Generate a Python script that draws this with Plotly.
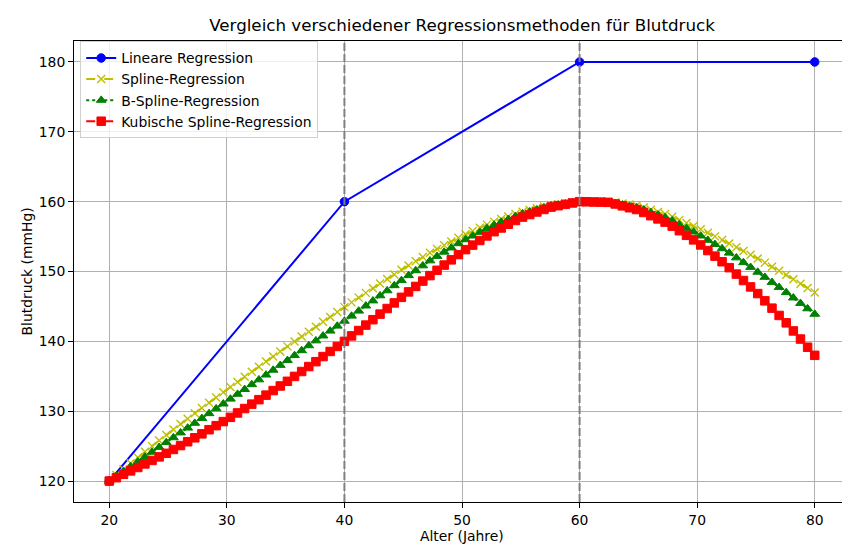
import plotly.graph_objects as go

# ---- data ----
alter_punkte = [20, 40, 60, 80]
linear_werte = [120, 160, 180, 180]

alter = [20.000, 20.606, 21.212, 21.818, 22.424, 23.030, 23.636, 24.242, 24.848, 25.455,
         26.061, 26.667, 27.273, 27.879, 28.485, 29.091, 29.697, 30.303, 30.909, 31.515,
         32.121, 32.727, 33.333, 33.939, 34.545, 35.152, 35.758, 36.364, 36.970, 37.576,
         38.182, 38.788, 39.394, 40.000, 40.606, 41.212, 41.818, 42.424, 43.030, 43.636,
         44.242, 44.848, 45.455, 46.061, 46.667, 47.273, 47.879, 48.485, 49.091, 49.697,
         50.303, 50.909, 51.515, 52.121, 52.727, 53.333, 53.939, 54.545, 55.152, 55.758,
         56.364, 56.970, 57.576, 58.182, 58.788, 59.394, 60.000, 60.606, 61.212, 61.818,
         62.424, 63.030, 63.636, 64.242, 64.848, 65.455, 66.061, 66.667, 67.273, 67.879,
         68.485, 69.091, 69.697, 70.303, 70.909, 71.515, 72.121, 72.727, 73.333, 73.939,
         74.545, 75.152, 75.758, 76.364, 76.970, 77.576, 78.182, 78.788, 79.394, 80.000]

spline_werte = [120.00, 120.85, 121.70, 122.55, 123.39, 124.20, 125.00, 125.80, 126.60, 127.38,
                128.16, 128.93, 129.71, 130.47, 131.22, 131.97, 132.72, 133.46, 134.19, 134.92,
                135.65, 136.37, 137.10, 137.83, 138.55, 139.28, 139.98, 140.68, 141.39, 142.09,
                142.79, 143.49, 144.20, 144.90, 145.58, 146.26, 146.94, 147.61, 148.27, 148.93,
                149.58, 150.24, 150.86, 151.46, 152.07, 152.67, 153.23, 153.77, 154.30, 154.83,
                155.33, 155.79, 156.25, 156.71, 157.14, 157.50, 157.86, 158.23, 158.56, 158.80,
                159.05, 159.29, 159.52, 159.64, 159.76, 159.88, 160.00, 160.02, 160.03, 160.02,
                159.99, 159.87, 159.73, 159.58, 159.44, 159.16, 158.85, 158.53, 158.22, 157.83,
                157.39, 156.95, 156.52, 156.05, 155.54, 155.03, 154.52, 154.00, 153.47, 152.93,
                152.40, 151.85, 151.27, 150.69, 150.11, 149.52, 148.89, 148.26, 147.63, 147.00]

bspline_werte = [120.00, 120.69, 121.38, 122.07, 122.76, 123.45, 124.15, 124.84, 125.53, 126.22,
                 126.91, 127.60, 128.29, 128.98, 129.67, 130.36, 131.05, 131.75, 132.44, 133.13,
                 133.82, 134.51, 135.20, 135.89, 136.58, 137.28, 137.98, 138.68, 139.39, 140.09,
                 140.79, 141.49, 142.20, 142.90, 143.63, 144.35, 145.08, 145.81, 146.54, 147.26,
                 147.99, 148.72, 149.43, 150.13, 150.83, 151.54, 152.18, 152.79, 153.39, 154.00,
                 154.57, 155.10, 155.63, 156.17, 156.65, 157.07, 157.48, 157.89, 158.27, 158.56,
                 158.85, 159.15, 159.42, 159.56, 159.71, 159.85, 160.00, 159.98, 159.95, 159.93,
                 159.90, 159.73, 159.54, 159.34, 159.15, 158.83, 158.46, 158.10, 157.74, 157.27,
                 156.73, 156.20, 155.67, 155.10, 154.49, 153.89, 153.28, 152.65, 151.97, 151.29,
                 150.61, 149.92, 149.19, 148.46, 147.74, 147.00, 146.23, 145.45, 144.68, 143.90]

kubisch_werte = [120.00, 120.48, 120.97, 121.45, 121.94, 122.45, 122.95, 123.46, 123.97, 124.52,
                 125.08, 125.63, 126.19, 126.76, 127.35, 127.93, 128.51, 129.12, 129.75, 130.38,
                 131.01, 131.65, 132.30, 132.95, 133.61, 134.28, 134.98, 135.68, 136.39, 137.09,
                 137.82, 138.55, 139.27, 140.00, 140.78, 141.55, 142.33, 143.10, 143.90, 144.70,
                 145.50, 146.30, 147.08, 147.86, 148.63, 149.41, 150.17, 150.92, 151.67, 152.42,
                 153.13, 153.78, 154.44, 155.09, 155.70, 156.23, 156.77, 157.30, 157.79, 158.15,
                 158.52, 158.88, 159.22, 159.42, 159.61, 159.81, 160.00, 159.98, 159.95, 159.93,
                 159.90, 159.67, 159.40, 159.13, 158.87, 158.45, 157.99, 157.53, 157.07, 156.49,
                 155.84, 155.18, 154.53, 153.80, 153.00, 152.20, 151.40, 150.55, 149.63, 148.71,
                 147.79, 146.84, 145.80, 144.75, 143.71, 142.65, 141.49, 140.33, 139.16, 138.00]

knoten = [40, 60]
x_ticks = [20, 30, 40, 50, 60, 70, 80]
y_ticks = [120, 130, 140, 150, 160, 170, 180]

FONT = "DejaVu Sans"

fig = go.Figure()
fig.add_trace(go.Scatter(
    x=alter_punkte, y=linear_werte, mode="lines+markers", name="Lineare Regression",
    line=dict(color="#0000ff", width=2),
    marker=dict(symbol="circle", size=8.5, color="#0000ff", line=dict(width=1, color="#0000ff"))))
fig.add_trace(go.Scatter(
    x=alter, y=spline_werte, mode="lines+markers", name="Spline-Regression",
    line=dict(color="#bfbf00", width=2, dash="dash"),
    marker=dict(symbol="x-thin", size=8, color="#bfbf00", line=dict(width=1.4, color="#bfbf00"))))
fig.add_trace(go.Scatter(
    x=alter, y=bspline_werte, mode="lines+markers", name="B-Spline-Regression",
    line=dict(color="#008000", width=2, dash="dot"),
    marker=dict(symbol="triangle-up", size=8.5, color="#008000", line=dict(width=1, color="#008000"))))
fig.add_trace(go.Scatter(
    x=alter, y=kubisch_werte, mode="lines+markers", name="Kubische Spline-Regression",
    line=dict(color="#ff0000", width=2, dash="dashdot"),
    marker=dict(symbol="square", size=8.5, color="#ff0000", line=dict(width=1, color="#ff0000"))))

for k in knoten:
    fig.add_shape(type="line", xref="x", yref="paper", x0=k, x1=k, y0=0, y1=1,
                  line=dict(color="#808080", width=2, dash="8px,3px"), layer="above")

axis_common = dict(
    showgrid=True, gridcolor="#b0b0b0", gridwidth=1,
    showline=True, linecolor="black", linewidth=1, mirror=True,
    ticks="outside", ticklen=5, tickwidth=1, tickcolor="black",
    tickfont=dict(family=FONT, size=13.9, color="black"),
    zeroline=False,
)

fig.update_layout(
    width=850, height=547,
    margin=dict(l=66, r=8, t=33, b=53),
    paper_bgcolor="white", plot_bgcolor="white",
    font=dict(family=FONT, color="black"),
    title=dict(text="Vergleich verschiedener Regressionsmethoden für Blutdruck",
               x=454 / 850, xanchor="center", y=1 - 17 / 547, yanchor="middle",
               yref="container", font=dict(family=FONT, size=16.7, color="black")),
    xaxis=dict(range=[17, 83], tickvals=x_ticks, **axis_common),
    yaxis=dict(range=[117, 183], tickvals=y_ticks, **axis_common),
    legend=dict(x=0.008, y=0.999, xanchor="left", yanchor="top",
                bgcolor="rgba(255,255,255,0.8)", bordercolor="#d0d0d0", borderwidth=1,
                font=dict(family=FONT, size=13.9, color="black")),
    showlegend=True,
    annotations=[
        dict(text="Alter (Jahre)", xref="paper", yref="paper", x=0.5, y=(494 - 528) / 461,
             xanchor="center", yanchor="middle", showarrow=False,
             font=dict(family=FONT, size=13.9, color="black")),
        dict(text="Blutdruck (mmHg)", xref="paper", yref="paper", x=(18 - 66) / 776, y=0.5,
             xanchor="center", yanchor="middle", textangle=-90, showarrow=False,
             font=dict(family=FONT, size=13.9, color="black")),
    ],
)

fig.write_html("out.html")
